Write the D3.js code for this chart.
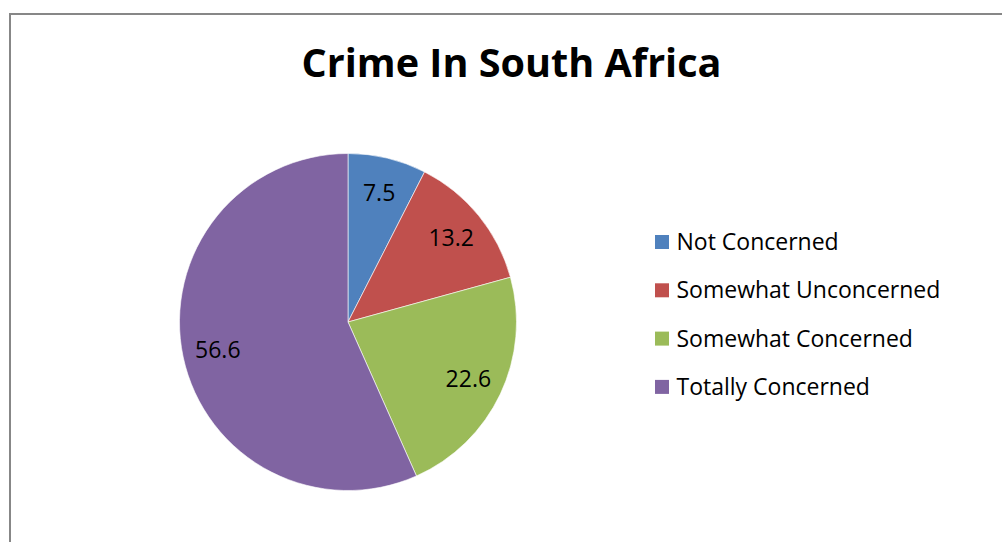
<!DOCTYPE html>
<html>
<head>
<meta charset="utf-8">
<script src="https://cdn.jsdelivr.net/npm/d3@7"></script>
<style>
  html, body { margin: 0; padding: 0; background: #fff; }
  svg { display: block; }
  text { font-family: "Open Sans", sans-serif; }
</style>
</head>
<body>
<svg id="chart" width="1002" height="542"></svg>
<script>
const title = "Crime In South Africa";
const categories = ["Not Concerned", "Somewhat Unconcerned", "Somewhat Concerned", "Totally Concerned"];
const values = [7.5, 13.2, 22.6, 56.6];
const colors = ["#4F81BD", "#C0504D", "#9BBB59", "#8064A2"];

const svg = d3.select("#chart");

// chart frame (extends beyond the visible window)
svg.append("rect")
  .attr("x", 10).attr("y", 14)
  .attr("width", 1020).attr("height", 560)
  .attr("fill", "#fff")
  .attr("stroke", "#878787")
  .attr("stroke-width", 2);

svg.append("text")
  .attr("x", 511.5).attr("y", 77)
  .attr("text-anchor", "middle")
  .attr("font-size", 39.6)
  .attr("font-weight", "bold")
  .attr("fill", "#000")
  .text(title);

const cx = 348, cy = 322, r = 168.5;
const color = d3.scaleOrdinal().domain(categories).range(colors);
const pie = d3.pie().sort(null).value(d => d.value);
const data = categories.map((c, i) => ({ name: c, value: values[i] }));
const arcs = pie(data);
const arc = d3.arc().innerRadius(0).outerRadius(r);
const labelArc = d3.arc().innerRadius(r * 0.79).outerRadius(r * 0.79);

const g = svg.append("g").attr("transform", `translate(${cx},${cy})`);
g.selectAll("path").data(arcs).enter().append("path")
  .attr("d", arc)
  .attr("fill", d => color(d.data.name))
  .attr("stroke", "#fff")
  .attr("stroke-width", 0.6);

g.selectAll("text").data(arcs).enter().append("text")
  .attr("transform", d => `translate(${labelArc.centroid(d)})`)
  .attr("text-anchor", "middle")
  .attr("dy", "0.35em")
  .attr("font-size", 23)
  .attr("fill", "#000")
  .text(d => d.data.value);

// legend
const legend = svg.append("g");
const items = legend.selectAll("g").data(categories).enter().append("g")
  .attr("transform", (d, i) => `translate(655, ${235 + i * 48.3})`);
items.append("rect")
  .attr("width", 14).attr("height", 14)
  .attr("fill", d => color(d));
items.append("text")
  .attr("x", 21.5).attr("y", 15)
  .attr("font-size", 23)
  .attr("fill", "#000")
  .text(d => d);
</script>
</body>
</html>
